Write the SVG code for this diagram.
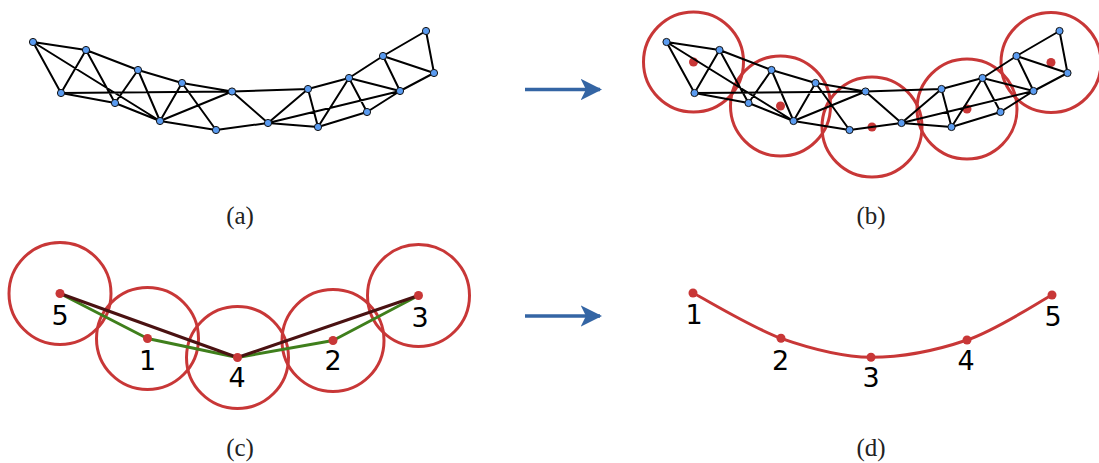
<svg xmlns="http://www.w3.org/2000/svg" width="1099" height="463" viewBox="0 0 1099 463">
<defs>
<style>
.e{stroke:#000;stroke-width:2;fill:none;stroke-linecap:round}
.n{fill:#5a9bf0;stroke:#111;stroke-width:1}
.ring{fill:none;stroke:#c83737;stroke-width:3}
.dot{fill:#c83737}
.lbl{font-family:"DejaVu Sans",sans-serif;font-size:27px;fill:#000;text-anchor:middle}
.cap{font-family:"Liberation Serif","DejaVu Serif",serif;font-size:25px;fill:#222;text-anchor:middle}
.arr{stroke:#3465a4;stroke-width:3.6;fill:none}
</style>
<marker id="ah" markerWidth="6" markerHeight="6" viewBox="0 0 10 10" refX="9" refY="5" orient="auto" markerUnits="strokeWidth">
<path d="M0,0 L10,5 L0,10 L2.5,5 Z" fill="#3465a4"/>
</marker>
<g id="mesh-edges">
<path class="e" d="M33,42L86,50 M33,42L61,93 M33,42L160,121 M86,50L61,93 M86,50L115,103 M86,50L138,70 M61,93L115,103 M61,93L232,91.5 M115,103L138,70 M115,103L160,121 M138,70L160,121 M138,70L182,83 M160,121L182,83 M160,121L216,130 M160,121L232,91.5 M182,83L216,130 M182,83L232,91.5 M216,130L268,123 M232,91.5L268,123 M232,91.5L308,89 M268,123L308,89 M268,123L318,127 M268,123L400,91 M308,89L318,127 M308,89L349,78 M318,127L349,78 M318,127L367,112 M349,78L367,112 M349,78L383,56 M349,78L400,91 M367,112L400,91 M383,56L400,91 M383,56L426,31 M383,56L434,73 M400,91L434,73 M426,31L434,73"/>
</g>
</defs>

<!-- Panel (a) -->
<g id="panel-a">
<g id="connectors-a"><use href="#mesh-edges"/></g>
<g id="a-n1"><circle class="n" cx="33" cy="42" r="3.6"/></g>
<g id="a-n2"><circle class="n" cx="86" cy="50" r="3.6"/></g>
<g id="a-n3"><circle class="n" cx="61" cy="93" r="3.6"/></g>
<g id="a-n4"><circle class="n" cx="115" cy="103" r="3.6"/></g>
<g id="a-n5"><circle class="n" cx="138" cy="70" r="3.6"/></g>
<g id="a-n6"><circle class="n" cx="160" cy="121" r="3.6"/></g>
<g id="a-n7"><circle class="n" cx="182" cy="83" r="3.6"/></g>
<g id="a-n8"><circle class="n" cx="216" cy="130" r="3.6"/></g>
<g id="a-n9"><circle class="n" cx="232" cy="91.5" r="3.6"/></g>
<g id="a-n10"><circle class="n" cx="268" cy="123" r="3.6"/></g>
<g id="a-n11"><circle class="n" cx="308" cy="89" r="3.6"/></g>
<g id="a-n12"><circle class="n" cx="318" cy="127" r="3.6"/></g>
<g id="a-n13"><circle class="n" cx="349" cy="78" r="3.6"/></g>
<g id="a-n14"><circle class="n" cx="367" cy="112" r="3.6"/></g>
<g id="a-n15"><circle class="n" cx="383" cy="56" r="3.6"/></g>
<g id="a-n16"><circle class="n" cx="400" cy="91" r="3.6"/></g>
<g id="a-n17"><circle class="n" cx="426" cy="31" r="3.6"/></g>
<g id="a-n18"><circle class="n" cx="434" cy="73" r="3.6"/></g>
<text class="cap" x="240" y="224">(a)</text>
</g>

<!-- Panel (b) -->
<g id="panel-b">
<g id="b-c1"><circle class="ring" cx="693.5" cy="62" r="50"/><circle class="dot" cx="693.5" cy="62" r="4.5"/></g>
<g id="b-c2"><circle class="ring" cx="780.5" cy="106" r="50"/><circle class="dot" cx="780.5" cy="106" r="4.5"/></g>
<g id="b-c3"><circle class="ring" cx="872" cy="127" r="50"/><circle class="dot" cx="872" cy="127" r="4.5"/></g>
<g id="b-c4"><circle class="ring" cx="967" cy="109" r="50"/><circle class="dot" cx="967" cy="109" r="4.5"/></g>
<g id="b-c5"><circle class="ring" cx="1051" cy="62.5" r="50"/><circle class="dot" cx="1051" cy="62.5" r="4.5"/></g>
<g transform="translate(633.5,0)">
<g id="connectors-b"><use href="#mesh-edges"/></g>
<g id="b-n1"><circle class="n" cx="33" cy="42" r="3.6"/></g>
<g id="b-n2"><circle class="n" cx="86" cy="50" r="3.6"/></g>
<g id="b-n3"><circle class="n" cx="61" cy="93" r="3.6"/></g>
<g id="b-n4"><circle class="n" cx="115" cy="103" r="3.6"/></g>
<g id="b-n5"><circle class="n" cx="138" cy="70" r="3.6"/></g>
<g id="b-n6"><circle class="n" cx="160" cy="121" r="3.6"/></g>
<g id="b-n7"><circle class="n" cx="182" cy="83" r="3.6"/></g>
<g id="b-n8"><circle class="n" cx="216" cy="130" r="3.6"/></g>
<g id="b-n9"><circle class="n" cx="232" cy="91.5" r="3.6"/></g>
<g id="b-n10"><circle class="n" cx="268" cy="123" r="3.6"/></g>
<g id="b-n11"><circle class="n" cx="308" cy="89" r="3.6"/></g>
<g id="b-n12"><circle class="n" cx="318" cy="127" r="3.6"/></g>
<g id="b-n13"><circle class="n" cx="349" cy="78" r="3.6"/></g>
<g id="b-n14"><circle class="n" cx="367" cy="112" r="3.6"/></g>
<g id="b-n15"><circle class="n" cx="383" cy="56" r="3.6"/></g>
<g id="b-n16"><circle class="n" cx="400" cy="91" r="3.6"/></g>
<g id="b-n17"><circle class="n" cx="426" cy="31" r="3.6"/></g>
<g id="b-n18"><circle class="n" cx="434" cy="73" r="3.6"/></g>
</g>
<text class="cap" x="871" y="224">(b)</text>
</g>

<!-- Panel (c) -->
<g id="panel-c">
<g id="c-ring5"><circle class="ring" cx="60" cy="293.5" r="51"/></g>
<g id="c-ring1"><circle class="ring" cx="147.5" cy="338.5" r="51"/></g>
<g id="c-ring4"><circle class="ring" cx="237.5" cy="357.5" r="51"/></g>
<g id="c-ring2"><circle class="ring" cx="333" cy="340.5" r="51"/></g>
<g id="c-ring3"><circle class="ring" cx="418.5" cy="295.5" r="51"/></g>
<g id="connectors-c">
<polyline points="60,293.5 147.5,338.5 237.5,357.5 333,340.5 418.5,295.5" fill="none" stroke="#3f7f1c" stroke-width="3" stroke-linejoin="round"/>
<polyline points="60,293.5 237.5,357.5 418.5,295.5" fill="none" stroke="#4a1212" stroke-width="3" stroke-linejoin="round"/>
</g>
<g id="c-n5"><circle class="dot" cx="60" cy="293.5" r="4.5"/><text class="lbl" x="60" y="325">5</text></g>
<g id="c-n1"><circle class="dot" cx="147.5" cy="338.5" r="4.5"/><text class="lbl" x="147.5" y="370">1</text></g>
<g id="c-n4"><circle class="dot" cx="237.5" cy="357.5" r="4.5"/><text class="lbl" x="237" y="387">4</text></g>
<g id="c-n2"><circle class="dot" cx="333" cy="340.5" r="4.5"/><text class="lbl" x="333" y="369.5">2</text></g>
<g id="c-n3"><circle class="dot" cx="418.5" cy="295.5" r="4.5"/><text class="lbl" x="420" y="327">3</text></g>
<text class="cap" x="240" y="456">(c)</text>
</g>

<!-- Panel (d) -->
<g id="panel-d">
<g id="connectors-d">
<path d="M693,293 C707.7,300.5 751.3,327.3 781,338.3 C810.7,348.7 840,356.7 871,357.3 C902,357.3 936.8,350.3 967,340 C997.2,329.7 1037.8,302.5 1052,295" fill="none" stroke="#c83737" stroke-width="3"/>
</g>
<g id="d-n1"><circle class="dot" cx="693" cy="293" r="4.5"/><text class="lbl" x="694" y="324">1</text></g>
<g id="d-n2"><circle class="dot" cx="781" cy="338.3" r="4.5"/><text class="lbl" x="780.5" y="369.5">2</text></g>
<g id="d-n3"><circle class="dot" cx="871" cy="357.3" r="4.5"/><text class="lbl" x="871" y="387">3</text></g>
<g id="d-n4"><circle class="dot" cx="967" cy="340" r="4.5"/><text class="lbl" x="966" y="370">4</text></g>
<g id="d-n5"><circle class="dot" cx="1052" cy="295" r="4.5"/><text class="lbl" x="1053" y="326">5</text></g>
<text class="cap" x="871" y="456">(d)</text>
</g>

<!-- Arrows -->
<g id="arrows">
<line class="arr" x1="525" y1="89.5" x2="600" y2="89.5" marker-end="url(#ah)"/>
<line class="arr" x1="525" y1="316" x2="600" y2="316" marker-end="url(#ah)"/>
</g>
</svg>
